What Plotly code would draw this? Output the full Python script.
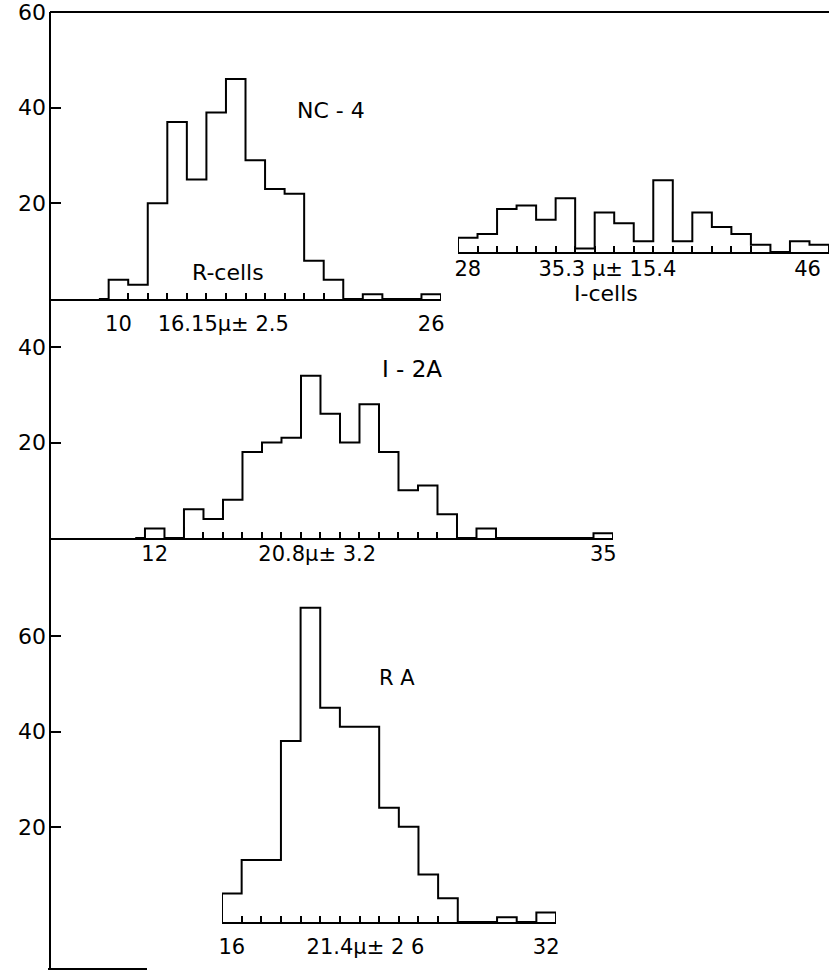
import plotly.graph_objects as go

# histogram data (cell diameter in micron -> count)
nc4_bins = list(range(10, 27))
nc4_counts = [4, 3, 20, 37, 25, 39, 46, 29, 23, 22, 8, 4, 0, 1, 0, 0, 1]

icell_bins = list(range(28, 47))
icell_counts = [4, 5, 12, 13, 9, 15, 1, 11, 8, 3, 20, 3, 11, 7, 5, 2, 0, 3, 2]

i2a_bins = list(range(12, 36))
i2a_counts = [2, 0, 6, 4, 8, 18, 20, 21, 34, 26, 20, 28, 18, 10, 11, 5, 0, 2, 0, 0, 0, 0, 0, 1]

ra_bins = list(range(16, 33))
ra_counts = [6, 13, 13, 38, 66, 45, 41, 41, 24, 20, 10, 5, 0, 0, 1, 0, 2]

# labels
nc4_ticks = [10, 15.36, 26]
nc4_ticktext = ["10", "16.15\u03bc\u00b1 2.5", "26"]
icell_ticks = [28, 35.15, 45.4]
icell_ticktext = ["28", "35.3 \u03bc\u00b1 15.4", "46"]
i2a_ticks = [12, 20.33, 35]
i2a_ticktext = ["12", "20.8\u03bc\u00b1 3.2", "35"]
ra_ticks = [16, 22.8, 32]
ra_ticktext = ["16", "21.4\u03bc\u00b1 2 6", "32"]

W, H = 829, 970
FONT = "DejaVu Sans"


def px(x):
    return x / W


def py(y):
    return 1 - y / H


def steps(bins, counts):
    # pad with empty bins so the outline drops to the baseline at both ends
    return [bins[0] - 1] + bins + [bins[-1] + 1], [0] + counts + [0]


fig = go.Figure()
panels = [("x", "y", nc4_bins, nc4_counts),
          ("x2", "y2", icell_bins, icell_counts),
          ("x3", "y3", i2a_bins, i2a_counts),
          ("x4", "y4", ra_bins, ra_counts)]
for xa, ya, b, c in panels:
    xs, ys = steps(b, c)
    fig.add_trace(go.Scatter(x=xs, y=ys, xaxis=xa, yaxis=ya, mode="lines",
                             line=dict(shape="hvh", color="black", width=2),
                             hoverinfo="skip", showlegend=False))


def xax(dom, rng, ticks, text, minor, anchor, standoff):
    return dict(domain=[px(dom[0]), px(dom[1])], range=rng, anchor=anchor,
                showline=True, linecolor="black", linewidth=2,
                showgrid=False, zeroline=False, ticks="",
                tickmode="array", tickvals=ticks, ticktext=text,
                ticklabelstandoff=standoff, automargin=False,
                ticklabeloverflow="allow",
                tickfont=dict(family=FONT, size=21, color="black"),
                minor=dict(tickmode="array", tickvals=minor, ticks="inside",
                           ticklen=6, tickwidth=2, tickcolor="black",
                           showgrid=False))


def yax(top, base, rng, ticks, text):
    return dict(domain=[py(base), py(top)], range=rng, anchor="free",
                position=px(50), showline=False, showgrid=False,
                zeroline=False, ticks="inside", ticklen=10, tickwidth=2,
                tickcolor="black", tickmode="array", tickvals=ticks,
                ticktext=text, ticklabelstandoff=4, automargin=False,
                ticklabeloverflow="allow",
                tickfont=dict(family=FONT, size=22, color="black"))


fig.update_layout(
    width=W, height=H, margin=dict(l=0, r=0, t=0, b=0),
    paper_bgcolor="white", plot_bgcolor="rgba(0,0,0,0)",
    font=dict(family=FONT, color="black"),
    xaxis=xax((50, 441), [6.5, 26.5], nc4_ticks, nc4_ticktext,
              [v + 0.5 for v in range(10, 21)], "y", 5),
    yaxis=yax(12, 299, [0, 60], [20, 40, 60], ["20", "40", "60"]),
    xaxis2=xax((458, 829), [27.5, 46.5], icell_ticks, icell_ticktext,
               [v + 0.5 for v in range(28, 43)], "y2", -3),
    yaxis2=dict(domain=[py(252), py(252 - 22 * 3.585)], range=[0, 22],
                anchor="x2", visible=False),
    xaxis3=xax((50, 613), [6.63, 35.5], i2a_ticks, i2a_ticktext,
               [v + 0.5 for v in range(14, 27)], "y3", -4),
    yaxis3=yax(538 - 42 * 4.775, 538, [0, 42], [20, 40], ["20", "40"]),
    xaxis4=xax((222, 556), [15.5, 32.5], ra_ticks, ra_ticktext,
               [v + 0.5 for v in range(16, 27)], "y4", 5),
    yaxis4=yax(922 - 70 * 4.76, 922, [0, 70], [0, 20, 40, 60],
               ["", "20", "40", "60"]),
)

# frame lines of the plate
frame = [(50, 12, 50, 969), (50, 12, 829, 12), (48, 969, 147, 969)]
for x0, y0, x1, y1 in frame:
    fig.add_shape(type="line", xref="paper", yref="paper",
                  x0=px(x0), y0=py(y0), x1=px(x1), y1=py(y1),
                  line=dict(color="black", width=2))

labels = [("NC - 4", 331, 110, 22), ("R-cells", 228, 272, 22),
          ("I-cells", 606, 293, 22), ("I - 2A", 412, 369, 23),
          ("R A", 397, 678, 21)]
for t, x, y, s in labels:
    fig.add_annotation(text=t, x=px(x), y=py(y), xref="paper", yref="paper",
                       showarrow=False, xanchor="center", yanchor="middle",
                       font=dict(family=FONT, size=s, color="black"))

fig.write_html("out.html", config={"displayModeBar": False},
               post_script="document.body.style.margin='0';"
                           "document.body.style.overflow='hidden';")
